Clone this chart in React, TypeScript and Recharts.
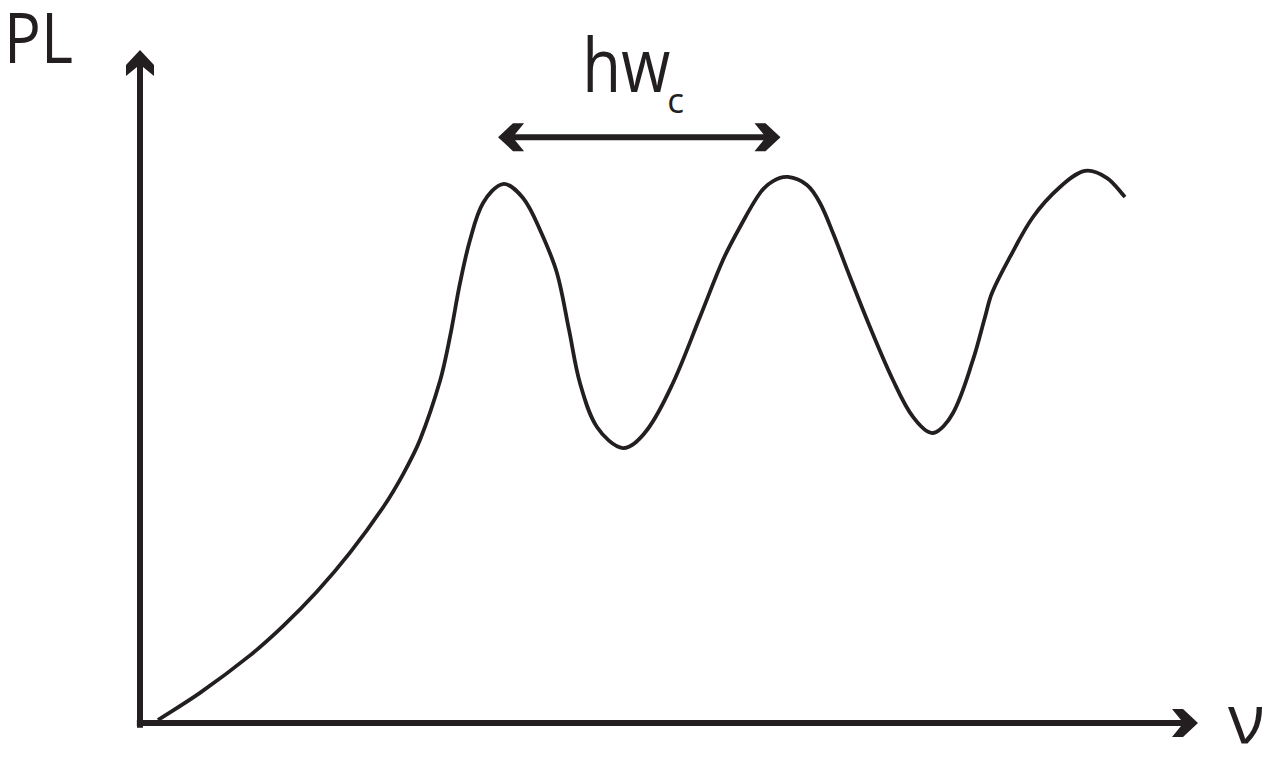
import React from "react";
import {
  LineChart,
  Line,
  XAxis,
  YAxis,
  ReferenceDot,
  ReferenceLine,
} from "recharts";

// frequency (arbitrary units, 0-100 across the axis)
const nu = [
  1.71, 5.71, 10.48, 13.62, 16.86, 20.0, 23.14, 25.05, 26.67, 28.57, 29.52,
  30.48, 31.43, 32.67, 34.57, 36.48, 38.1, 39.71, 40.86, 41.9, 43.52, 46.0,
  48.29, 50.76, 53.33, 55.52, 57.14, 59.05, 60.29, 61.71, 63.52, 64.76, 66.0,
  67.62, 69.52, 71.71, 73.62, 75.52, 77.43, 79.33, 80.48, 81.14, 82.86, 85.05,
  87.62, 90.0, 92.1, 93.81,
];

// PL intensity (arbitrary units)
const pl = [
  0.45, 4.53, 10.17, 14.56, 19.77, 25.61, 32.41, 37.4, 42.59, 51.43, 58.05,
  66.17, 72.63, 78.2, 81.05, 78.95, 74.14, 67.67, 59.1, 51.13, 44.51, 41.35,
  44.06, 51.13, 61.05, 69.62, 74.59, 79.7, 81.5, 82.11, 80.9, 78.2, 73.68,
  67.07, 59.55, 51.58, 46.02, 43.61, 46.62, 54.59, 61.05, 64.66, 70.08, 76.09,
  80.6, 83.01, 81.95, 79.1,
];

// the double arrow marking the spacing between two peaks
const spacingFrom = 34.1;
const spacingTo = 61.0;
const spacingLevel = 88.1;

const axisLabelY = "PL";
const axisLabelX = "ν";
const spacingLabel = "hw";
const spacingSub = "c";

const data = nu.map((x, i) => ({ nu: x, pl: pl[i] }));

const ink = "#231f20";
const font = "'Open Sans', sans-serif";

// smooth curve through every point, tangents scaled by chord length
const smoothCurve = (context: any) => {
  let pts: number[][] = [];
  return {
    areaStart() {},
    areaEnd() {},
    lineStart() {
      pts = [];
    },
    point(x: number, y: number) {
      pts.push([+x, +y]);
    },
    lineEnd() {
      const n = pts.length;
      if (!n) return;
      const d: number[] = [];
      for (let i = 0; i < n - 1; i++) {
        d.push(Math.hypot(pts[i + 1][0] - pts[i][0], pts[i + 1][1] - pts[i][1]) || 1);
      }
      const tan = pts.map((p, i) => {
        const a = pts[Math.max(i - 1, 0)];
        const b = pts[Math.min(i + 1, n - 1)];
        const len = (i > 0 ? d[i - 1] : 0) + (i < n - 1 ? d[i] : 0);
        return [(b[0] - a[0]) / len, (b[1] - a[1]) / len];
      });
      context.moveTo(pts[0][0], pts[0][1]);
      for (let i = 0; i < n - 1; i++) {
        const p1 = pts[i];
        const p2 = pts[i + 1];
        const k = d[i] / 3;
        context.bezierCurveTo(
          p1[0] + tan[i][0] * k,
          p1[1] + tan[i][1] * k,
          p2[0] - tan[i + 1][0] * k,
          p2[1] - tan[i + 1][1] * k,
          p2[0],
          p2[1]
        );
      }
    },
  };
};

// arrowhead pointing up, tip at (0,0)
const head = "M0,0 L14,15 L14,26 L3,17 L-3,17 L-14,26 L-14,15 Z";

const UpHead = (p: any) => (
  <g fill={ink}>
    <path d={head} transform={`translate(${p.cx},${p.cy - 8})`} />
    <text
      x={p.cx - 136}
      y={p.cy + 5}
      fontFamily={font}
      fontSize={70}
      textLength={69}
      lengthAdjust="spacingAndGlyphs"
    >
      {axisLabelY}
    </text>
  </g>
);

const RightHead = (p: any) => (
  <g fill={ink}>
    <path d={head} transform={`translate(${p.cx + 8},${p.cy}) rotate(90)`} />
    <text x={p.cx + 38} y={p.cy + 20} fontFamily={font} fontSize={68}>
      {axisLabelX}
    </text>
  </g>
);

const LeftTip = (p: any) => (
  <path d={head} fill={ink} transform={`translate(${p.cx},${p.cy}) rotate(-90)`} />
);
const RightTip = (p: any) => (
  <path d={head} fill={ink} transform={`translate(${p.cx},${p.cy}) rotate(90)`} />
);

const SpacingText = (p: any) => (
  <text x={p.cx - 57} y={p.cy - 45} fill={ink} fontFamily={font} fontSize={75}>
    <tspan textLength={88} lengthAdjust="spacingAndGlyphs">
      {spacingLabel}
    </tspan>
    <tspan dx={-3} dy={21} fontSize={35}>
      {spacingSub}
    </tspan>
  </text>
);

export default function App() {
  return (
    <div
      style={{
        position: "absolute",
        left: 0,
        top: 0,
        width: 1264,
        height: 763,
        background: "#fff",
      }}
    >
      <LineChart
        width={1264}
        height={763}
        data={data}
        margin={{ top: 58, right: 74, bottom: 40, left: 140 }}
      >
        <XAxis
          dataKey="nu"
          type="number"
          domain={[0, 100]}
          allowDataOverflow
          hide
        />
        <YAxis type="number" domain={[0, 100]} allowDataOverflow hide />
        {/* axes */}
        <ReferenceLine
          segment={[
            { x: 0, y: -0.7 },
            { x: 0, y: 100 },
          ]}
          stroke={ink}
          strokeWidth={6}
          ifOverflow="visible"
        />
        <ReferenceLine
          segment={[
            { x: -0.3, y: 0 },
            { x: 100, y: 0 },
          ]}
          stroke={ink}
          strokeWidth={6}
          ifOverflow="visible"
        />
        <Line
          type={smoothCurve as any}
          dataKey="pl"
          stroke={ink}
          strokeWidth={3.8}
          dot={false}
          activeDot={false}
          isAnimationActive={false}
        />
        <ReferenceDot x={0} y={100} r={1} shape={UpHead} ifOverflow="visible" />
        <ReferenceDot x={100} y={0} r={1} shape={RightHead} ifOverflow="visible" />
        <ReferenceLine
          segment={[
            { x: spacingFrom + 0.8, y: spacingLevel },
            { x: spacingTo - 0.8, y: spacingLevel },
          ]}
          stroke={ink}
          strokeWidth={6}
        />
        <ReferenceDot x={spacingFrom} y={spacingLevel} r={1} shape={LeftTip} />
        <ReferenceDot x={spacingTo} y={spacingLevel} r={1} shape={RightTip} />
        <ReferenceDot
          x={(spacingFrom + spacingTo) / 2}
          y={spacingLevel}
          r={1}
          shape={SpacingText}
        />
      </LineChart>
    </div>
  );
}
